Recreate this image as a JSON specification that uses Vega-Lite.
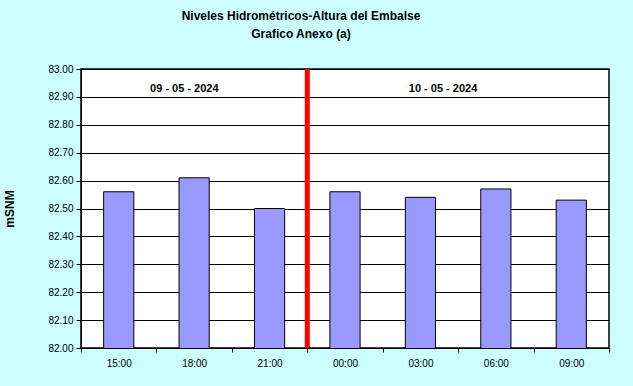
{
  "$schema": "https://vega.github.io/schema/vega-lite/v6.json",
  "autosize": "none",
  "width": 528,
  "height": 279,
  "padding": {"left": 81, "top": 69, "right": 24, "bottom": 38},
  "background": "#ccffff",
  "title": {
    "text": ["Niveles Hidrométricos-Altura del Embalse", "Grafico Anexo (a)"],
    "font": "Liberation Sans",
    "fontSize": 12,
    "fontWeight": "bold",
    "color": "#000000",
    "lineHeight": 18,
    "anchor": "middle",
    "frame": "group",
    "dx": -44,
    "offset": 23
  },
  "config": {
    "view": {"stroke": "#000000", "strokeWidth": 1.5, "fill": "#ffffff"},
    "axis": {"labelFont": "Liberation Sans", "titleFont": "Liberation Sans", "labelColor": "#000000", "titleColor": "#000000"},
    "axisY": {
      "title": "mSNM", "titleFontSize": 12, "titleFontWeight": "bold", "titlePadding": 31,
      "values": [82.0, 82.1, 82.2, 82.3, 82.4, 82.5, 82.6, 82.7, 82.8, 82.9, 83.0],
      "format": ".2f", "labelFontSize": 10, "labelPadding": 3, "labelOverlap": false, "labelFlush": false,
      "tickColor": "#000000", "tickSize": 5, "domainColor": "#000000",
      "grid": true, "gridColor": "#000000", "gridOpacity": 1, "gridWidth": 1
    }
  },
  "datasets": {
    "niveles": [
      {"t": "15:00", "v": 82.56},
      {"t": "18:00", "v": 82.61},
      {"t": "21:00", "v": 82.50},
      {"t": "00:00", "v": 82.56},
      {"t": "03:00", "v": 82.54},
      {"t": "06:00", "v": 82.57},
      {"t": "09:00", "v": 82.53}
    ],
    "corte": [{"t": "21:00"}],
    "fechas1": [{"t": "18:00", "v": 82.93, "label": "09 - 05 - 2024"}],
    "fechas2": [{"t": "03:00", "v": 82.93, "label": "10 - 05 - 2024"}]
  },
  "layer": [
    {
      "data": {"name": "niveles"},
      "mark": {"type": "bar", "clip": true, "width": {"band": 0.4}, "fill": "#9999ff", "stroke": "#000000", "strokeWidth": 1},
      "encoding": {
        "x": {
          "field": "t", "type": "nominal", "sort": null,
          "scale": {"domain": ["15:00", "18:00", "21:00", "00:00", "03:00", "06:00", "09:00"], "paddingInner": 0, "paddingOuter": 0},
          "axis": {"title": null, "labelAngle": 0, "labelFontSize": 10, "labelPadding": 6, "tickBand": "extent", "tickColor": "#000000", "tickSize": 4, "domainColor": "#000000", "grid": false}
        },
        "y": {
          "field": "v", "type": "quantitative",
          "scale": {"domain": [82, 83], "zero": false, "nice": false},
          "axis": {
            "title": "mSNM",
            "values": [82.0, 82.1, 82.2, 82.3, 82.4, 82.5, 82.6, 82.7, 82.8, 82.9, 83.0],
            "labelOverlap": false
          }
        }
      }
    },
    {
      "data": {"name": "corte"},
      "mark": {"type": "rule", "color": "#ff0000", "strokeWidth": 5},
      "encoding": {
        "x": {"field": "t", "type": "nominal", "bandPosition": 1}
      }
    },
    {
      "data": {"name": "fechas1"},
      "mark": {"type": "text", "font": "Liberation Sans", "fontSize": 11, "fontWeight": "bold", "color": "#000000"},
      "encoding": {
        "x": {"field": "t", "type": "nominal", "bandPosition": 0.37},
        "y": {"field": "v", "type": "quantitative", "axis": {"title": "mSNM", "values": [82.0, 82.1, 82.2, 82.3, 82.4, 82.5, 82.6, 82.7, 82.8, 82.9, 83.0], "labelOverlap": false}},
        "text": {"field": "label"}
      }
    },
    {
      "data": {"name": "fechas2"},
      "mark": {"type": "text", "font": "Liberation Sans", "fontSize": 11, "fontWeight": "bold", "color": "#000000"},
      "encoding": {
        "x": {"field": "t", "type": "nominal", "bandPosition": 0.8},
        "y": {"field": "v", "type": "quantitative", "axis": {"title": "mSNM", "values": [82.0, 82.1, 82.2, 82.3, 82.4, 82.5, 82.6, 82.7, 82.8, 82.9, 83.0], "labelOverlap": false}},
        "text": {"field": "label"}
      }
    }
  ]
}
